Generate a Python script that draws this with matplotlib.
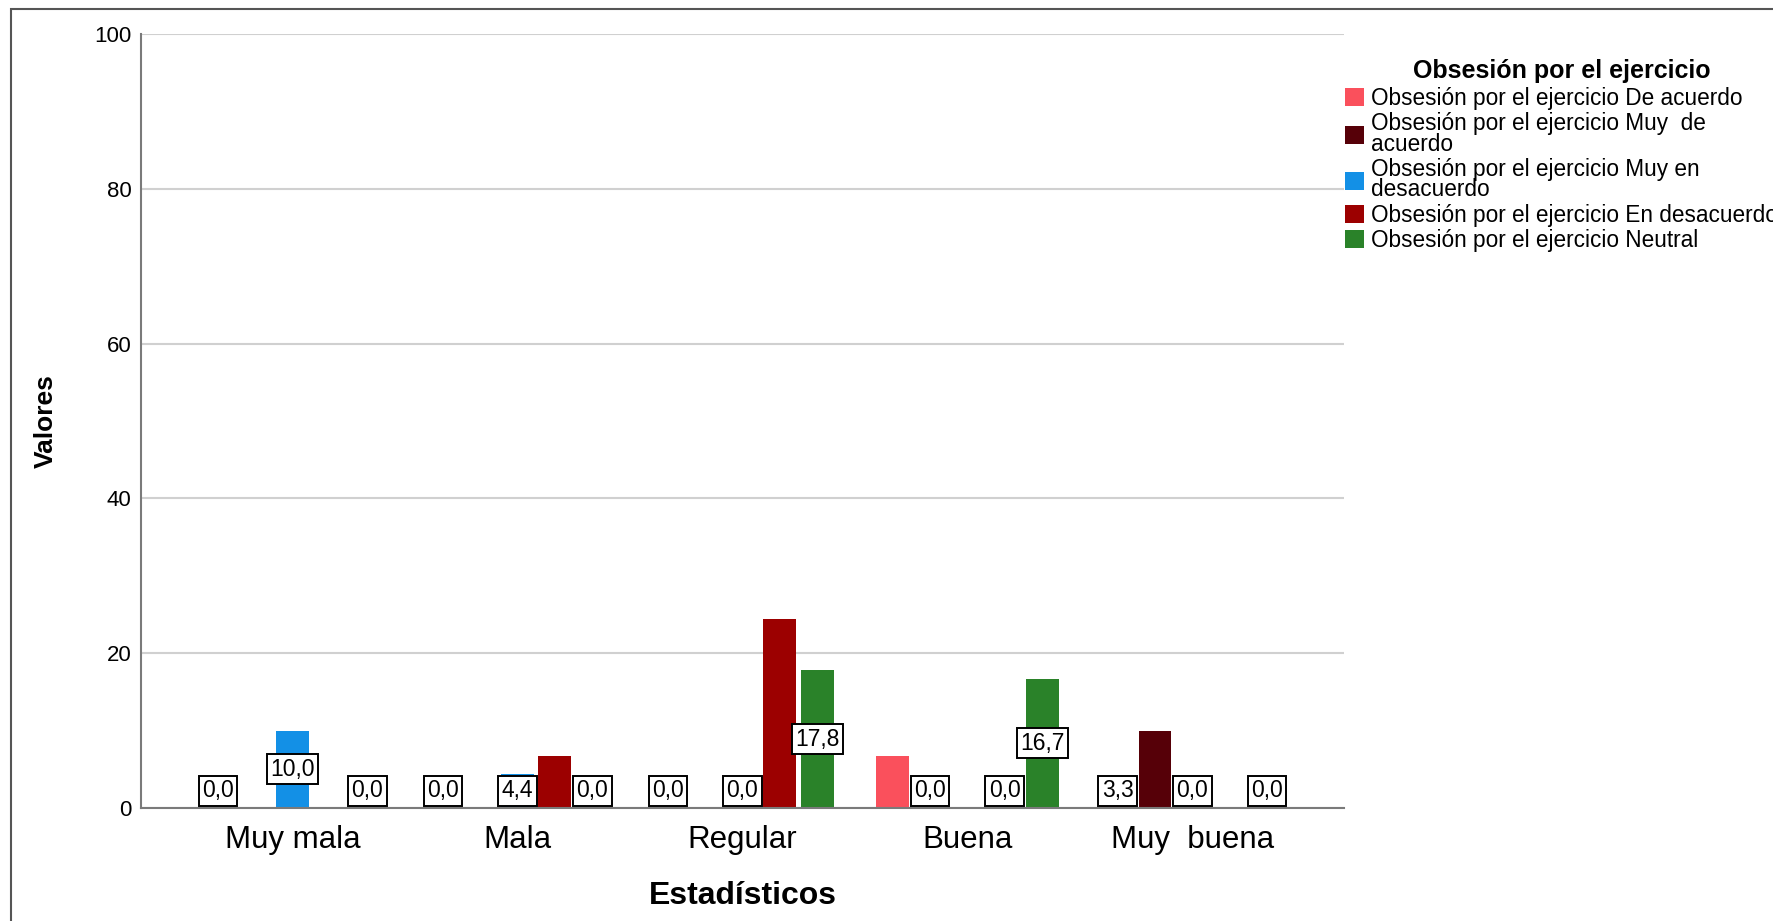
import numpy as np
import matplotlib
matplotlib.use("Agg")
import matplotlib.pyplot as plt
from matplotlib.patches import Rectangle

plt.rcParams['font.family'] = ['Liberation Sans', 'DejaVu Sans']

# categorías del eje X y series (porcentajes)
categorias = ['Muy mala', 'Mala', 'Regular', 'Buena', 'Muy  buena']
series = [
    'Obsesión por el ejercicio De acuerdo',
    'Obsesión por el ejercicio Muy  de\nacuerdo',
    'Obsesión por el ejercicio Muy en\ndesacuerdo',
    'Obsesión por el ejercicio En desacuerdo',
    'Obsesión por el ejercicio Neutral',
]
de_acuerdo = [0.0, 0.0, 0.0, 6.7, 3.3]
muy_de_acuerdo = [0.0, 0.0, 0.0, 0.0, 10.0]
muy_en_desacuerdo = [10.0, 4.4, 0.0, 0.0, 0.0]
en_desacuerdo = [0.0, 6.7, 24.4, 0.0, 0.0]
neutral = [0.0, 0.0, 17.8, 16.7, 0.0]
valores = [de_acuerdo, muy_de_acuerdo, muy_en_desacuerdo, en_desacuerdo, neutral]

# etiquetas visibles (SPSS oculta las que se solapan)
etiqueta_visible = [
    [1, 1, 1, 0, 1],
    [0, 0, 0, 1, 0],
    [1, 1, 1, 0, 1],
    [0, 0, 0, 1, 0],
    [1, 1, 1, 1, 1],
]
colores = ['#fa505c', '#560008', '#1390e6', '#9c0000', '#2a8229']

fig = plt.figure(figsize=(17.74, 9.21), dpi=100)
ax = fig.add_axes([141/1774, 1 - 808/921, (1344-141)/1774, (808-34)/921])

x = np.arange(len(categorias))
paso = 0.166
ancho = 0.146
for i, (vals, col) in enumerate(zip(valores, colores)):
    pos = x + (i - 2) * paso
    ax.bar(pos, vals, width=ancho, color=col, label=series[i], zorder=2)
    for xp, v, vis in zip(pos, vals, etiqueta_visible[i]):
        if not vis:
            continue
        ax.text(xp, max(v / 2, 2.25), f'{v:.1f}'.replace('.', ','),
                ha='center', va='center', fontsize=16.5, zorder=4,
                bbox=dict(boxstyle='square,pad=0.15', fc='white', ec='black', lw=1.4))

ax.set_ylim(0, 100)
ax.set_xlim(-0.674, 4.674)
ax.set_yticks([0, 20, 40, 60, 80, 100])
ax.yaxis.grid(True, color='#d0d0d0', lw=1.5, zorder=0)
ax.set_axisbelow(True)
ax.tick_params(axis='both', length=0)
ax.tick_params(axis='y', labelsize=16, pad=7)
ax.tick_params(axis='x', labelsize=22.5, pad=12)
ax.set_xticks(x)
ax.set_xticklabels(categorias)
for s in ['top', 'right']:
    ax.spines[s].set_visible(False)
for s in ['left', 'bottom']:
    ax.spines[s].set_color('#7a7a7a')
    ax.spines[s].set_linewidth(1.5)

ax.set_xlabel('Estadísticos', fontsize=23, fontweight='bold', labelpad=19)
ax.set_ylabel('Valores', fontsize=19, fontweight='bold')
ax.yaxis.set_label_coords(-0.069, 0.5)

leg = ax.legend(loc='upper left', bbox_to_anchor=(1336/1774, 1 - 50/921),
                bbox_transform=fig.transFigure, frameon=False,
                title='Obsesión por el ejercicio', fontsize=16.3,
                title_fontproperties={'weight': 'bold', 'size': 18},
                handlelength=0.85, handleheight=0.85, handletextpad=0.3,
                labelspacing=0.1, borderaxespad=0)
leg._legend_box.sep = 3
for t in leg.get_texts():
    t.set_linespacing(0.85)

# marco exterior
fig.patches.append(Rectangle((11/1774, -0.01), 1.0, 1 - 9/921 + 0.01,
                             transform=fig.transFigure, fill=False,
                             ec='#555555', lw=1.5))

fig.savefig('out.png', dpi=100)
